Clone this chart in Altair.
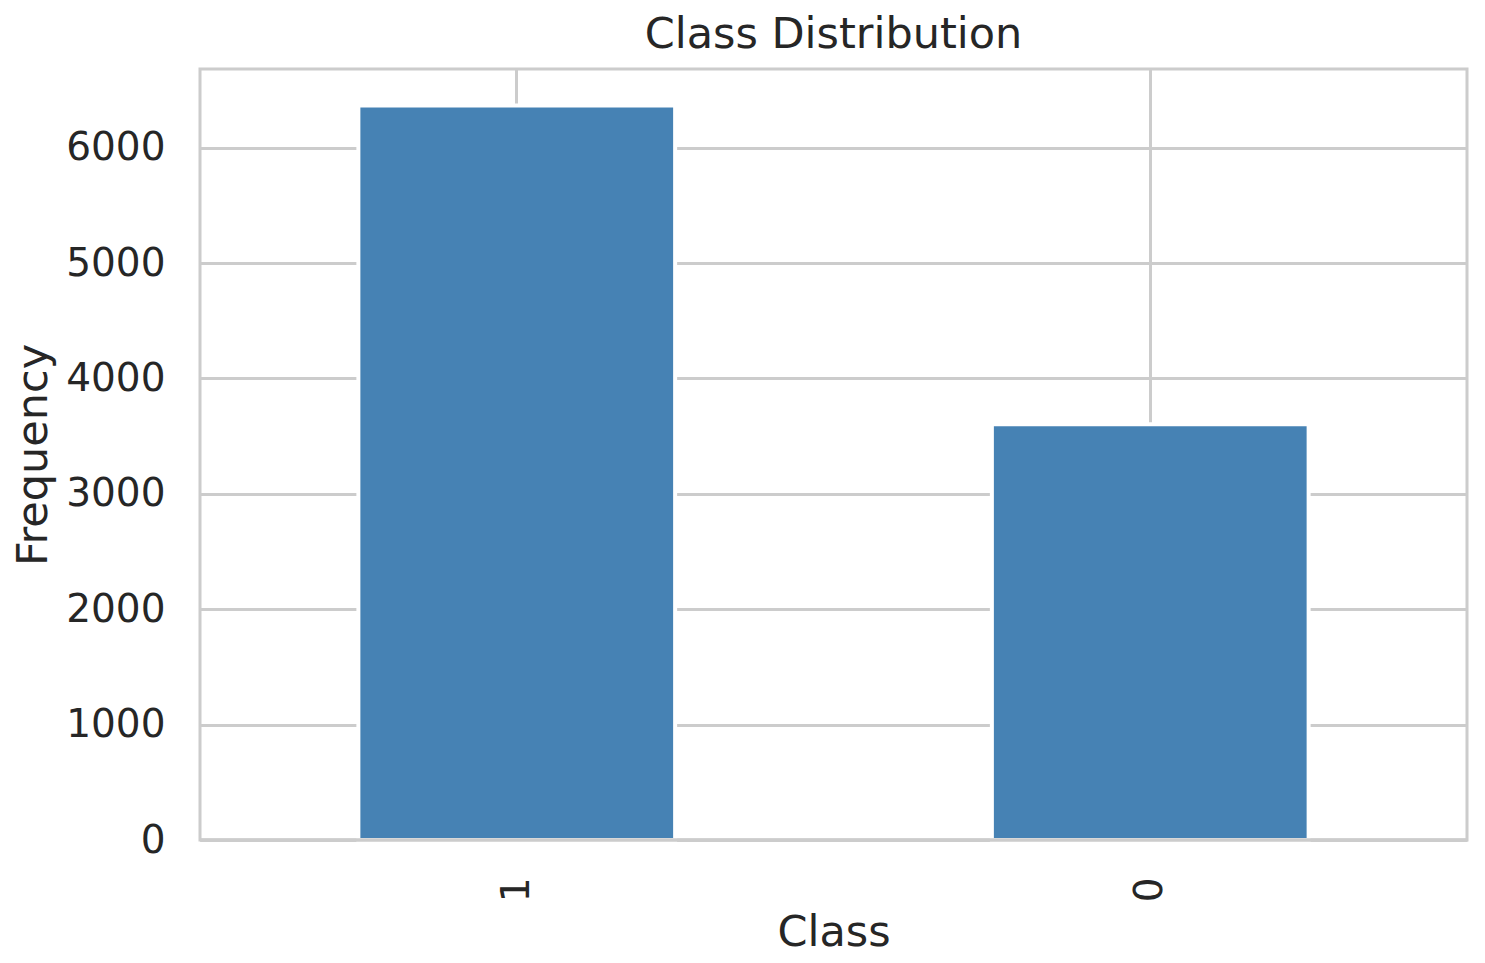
import altair as alt
import pandas as pd

classes = ["1", "0"]
counts = [6365, 3603]

df = pd.DataFrame({"Class": classes, "Frequency": counts})

GRID = "#cccccc"
TXT = "#262626"
FONT = "DejaVu Sans"

bars = alt.Chart(df).mark_bar(
    color="#4682b4", stroke="white", strokeWidth=4
).encode(
    x=alt.X("Class:N", sort=classes,
            scale=alt.Scale(paddingInner=0.5, paddingOuter=0.25),
            axis=alt.Axis(title="Class", labelAngle=270, labelAlign="right",
                          labelBaseline="middle", labelPadding=37, ticks=False,
                          grid=True, gridColor=GRID, gridWidth=3, domain=False,
                          labelFontSize=39, titleFontSize=43, titlePadding=10)),
    y=alt.Y("Frequency:Q", scale=alt.Scale(domain=[0, 6682], nice=False),
            axis=alt.Axis(title="Frequency", values=[0, 1000, 2000, 3000, 4000, 5000, 6000],
                          format="d", ticks=False, labelPadding=35, grid=True,
                          gridColor=GRID, gridWidth=3, domain=False, labelFontSize=39,
                          titleFontSize=43, titlePadding=10)),
)

base_rule = alt.Chart(df).mark_rule(color=GRID, strokeWidth=3).encode(
    y=alt.datum(0)
)

chart = alt.layer(bars, base_rule).properties(
    width=1267, height=771,
    title=alt.TitleParams("Class Distribution", fontSize=43, font=FONT, color=TXT,
                          fontWeight="normal", offset=12),
    autosize=alt.AutoSizeParams(type="none"),
    padding={"left": 192, "top": 61, "right": 10, "bottom": 125},
).configure_view(
    stroke=GRID, strokeWidth=3
).configure_axis(
    labelFont=FONT, titleFont=FONT, labelColor=TXT, titleColor=TXT,
    titleFontWeight="normal"
)

chart.save("out.html", embed_options={"renderer": "svg", "actions": False})
